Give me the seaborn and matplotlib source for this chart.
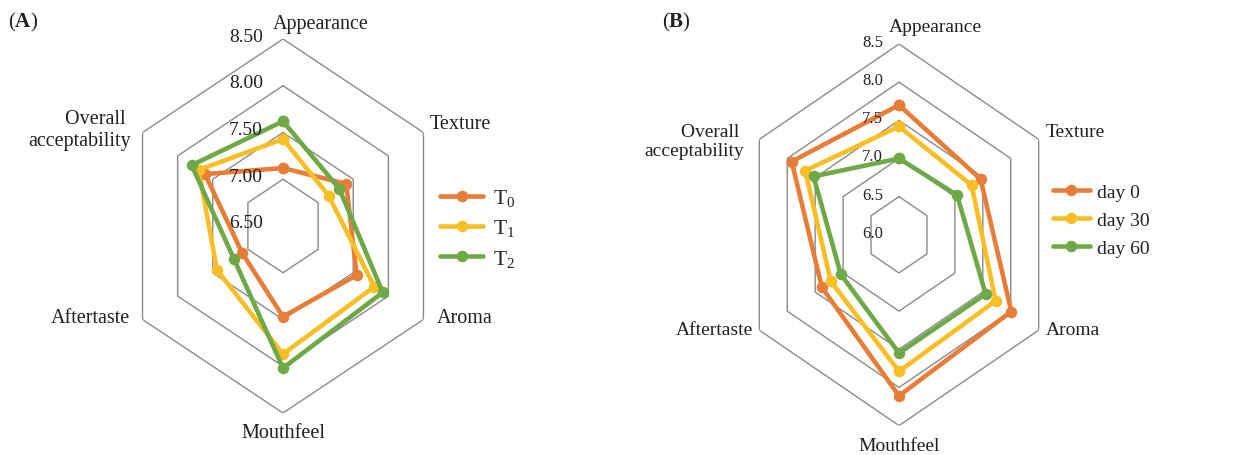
import numpy as np
import pandas as pd
import matplotlib
matplotlib.use("Agg")
import matplotlib.pyplot as plt
import seaborn as sns

# Sensory attributes, clockwise from the top
attributes = ["Appearance", "Texture", "Aroma", "Mouthfeel", "Aftertaste",
              "Overall \nacceptability"]

# Panel A: formulations
treatments = ["T$_0$", "T$_1$", "T$_2$"]
t0_scores = [7.12, 7.40, 7.55, 7.47, 7.08, 7.61]
t1_scores = [7.43, 7.15, 7.80, 7.87, 7.44, 7.70]
t2_scores = [7.62, 7.30, 7.92, 8.02, 7.20, 7.80]
ticks_a = [6.5, 7.0, 7.5, 8.0, 8.5]
tick_labels_a = ["6.50", "7.00", "7.50", "8.00", "8.50"]

# Panel B: storage time
storage_days = ["day 0", "day 30", "day 60"]
day0_scores = [7.70, 7.46, 8.01, 8.11, 7.38, 7.92]
day30_scores = [7.42, 7.30, 7.73, 7.79, 7.22, 7.68]
day60_scores = [7.00, 7.04, 7.55, 7.55, 7.04, 7.53]
ticks_b = [6.0, 6.5, 7.0, 7.5, 8.0, 8.5]
tick_labels_b = ["6.0", "6.5", "7.0", "7.5", "8.0", "8.5"]

palette = ["#E67D38", "#F7BE26", "#6FA846"]
grid_color = "#8A8A8A"

sns.set_theme(style="white")
plt.rcParams["font.family"] = ["Liberation Serif", "DejaVu Serif"]
plt.rcParams["mathtext.fontset"] = "custom"
plt.rcParams["mathtext.rm"] = "Liberation Serif"
plt.rcParams["mathtext.bf"] = "Liberation Serif:bold"
plt.rcParams["mathtext.it"] = "Liberation Serif:italic"
plt.rcParams["text.color"] = "#231F20"

W, H = 1242, 456
fig = plt.figure(figsize=(W / 100, H / 100), dpi=100)

n = len(attributes)
angles = np.linspace(0, 2 * np.pi, n, endpoint=False)
closed = np.append(angles, 2 * np.pi)


def radar(rect, names, series, ticks, tick_labels, label_offsets,
          tick_offset, tick_size, label_size, legend_anchor, legend_size,
          legend_spacing, handle_len, text_pad):
    ax = fig.add_axes(rect, projection="polar")
    ax.set_theta_zero_location("N")
    ax.set_theta_direction(-1)

    rows = []
    for name, vals in zip(names, series):
        vals = list(vals) + [vals[0]]
        for th, v in zip(closed, vals):
            rows.append({"theta": th, "score": v, "group": name})
    df = pd.DataFrame(rows)

    # hexagonal rings
    for lvl in ticks[1:]:
        ax.plot(closed, [lvl] * len(closed), color=grid_color, lw=1.0, zorder=0)

    sns.lineplot(data=df, x="theta", y="score", hue="group", hue_order=names,
                 palette=palette, sort=False, estimator=None, marker="o",
                 markersize=8.3, markeredgewidth=0, linewidth=3.3, ax=ax,
                 legend=True)

    ax.set_ylim(ticks[0], ticks[-1])
    ax.set_xticks([])
    ax.set_yticks([])
    ax.grid(False)
    ax.spines["polar"].set_visible(False)
    ax.set_xlabel("")
    ax.set_ylabel("")
    ax.set_aspect("auto")
    ax.set_position(rect)
    ax.patch.set_alpha(0)

    for lvl, lab in zip(ticks, tick_labels):
        ax.annotate(lab, xy=(0, lvl), xytext=tick_offset,
                    textcoords="offset pixels", ha="right", va="center",
                    fontsize=tick_size)

    for th, lab, (dx, dy, ha) in zip(angles, attributes, label_offsets):
        ax.annotate(lab, xy=(th, ticks[-1]), xytext=(dx, dy),
                    textcoords="offset pixels", ha=ha, va="center",
                    multialignment="right", fontsize=label_size,
                    linespacing=1.15)

    sns.move_legend(ax, loc="center left", bbox_to_anchor=legend_anchor,
                    bbox_transform=fig.transFigure, frameon=False, title=None,
                    fontsize=legend_size, handlelength=handle_len,
                    handletextpad=text_pad, labelspacing=legend_spacing,
                    borderpad=0, borderaxespad=0)
    return ax


# Panel A
radar([120.8 / W, (H - 414) / H, 324.4 / W, 374 / H],
      treatments, [t0_scores, t1_scores, t2_scores], ticks_a, tick_labels_a,
      [(38, 15, "center"), (6, 9, "left"), (13, 2, "left"),
       (0, -20, "center"), (-12, 2, "right"), (-12, 3, "right")],
      (-20, 3), 14, 14.5, (440 / W, 1 - 229 / H), 15.5, 0.42, 2.0, 0.45)

# Panel B
radar([737.7 / W, (H - 426.6) / H, 322.6 / W, 381.6 / H],
      storage_days, [day0_scores, day30_scores, day60_scores], ticks_b,
      tick_labels_b,
      [(36, 18, "center"), (7, 8, "left"), (7, 1, "left"),
       (0, -20, "center"), (-6, 1, "right"), (-15, -2, "right")],
      (-16, 2), 12, 14, (1053 / W, 1 - 221 / H), 14, 0.52, 1.9, 0.36)

fig.text(8 / W, 1 - 22 / H, r"($\mathbf{A}$)", ha="left", va="center",
         fontsize=15)
fig.text(662 / W, 1 - 22 / H, r"($\mathbf{B}$)", ha="left", va="center",
         fontsize=15)

fig.savefig("out.png", dpi=100, facecolor="white")
